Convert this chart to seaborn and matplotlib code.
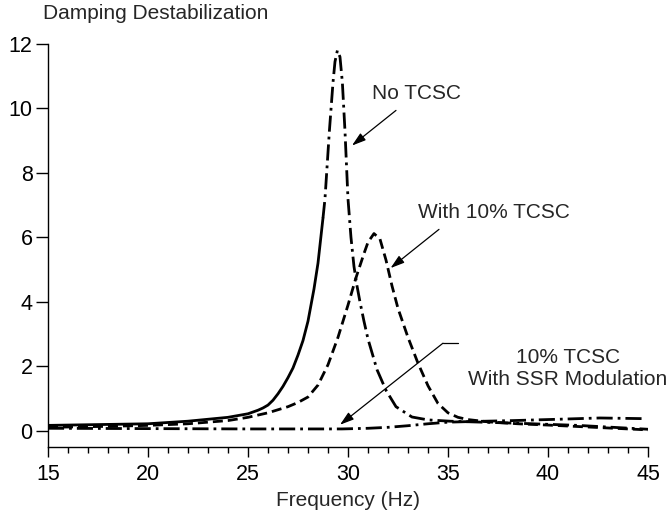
import numpy as np
import pandas as pd
import matplotlib
matplotlib.use("Agg")
import matplotlib.pyplot as plt
import seaborn as sns
from matplotlib.ticker import MultipleLocator

# Damping destabilization vs. frequency for three compensation cases
freq_no_tcsc = [15, 17, 19, 20, 22, 24, 25, 25.5, 25.75, 26, 26.25, 26.5, 26.75, 27,
                27.25, 27.5, 27.75, 28, 28.15, 28.3, 28.5, 28.75, 28.85, 29.07, 29.25,
                29.35, 29.47, 29.6, 29.72, 29.85, 30.0, 30.15, 30.3, 30.45, 30.6, 30.8,
                31.0, 31.45, 31.9, 32.4, 33.2, 34.0, 35.1, 38.3, 41.5, 45]
damp_no_tcsc = [0.17, 0.19, 0.21, 0.22, 0.30, 0.42, 0.53, 0.64, 0.71, 0.80, 0.95, 1.15,
                1.38, 1.65, 1.95, 2.35, 2.8, 3.4, 3.9, 4.4, 5.2, 6.6, 7.2, 9.3, 10.8,
                11.45, 11.8, 11.6, 10.8, 9.3, 7.2, 6.0, 5.1, 4.5, 4.0, 3.4, 2.85, 1.9,
                1.26, 0.75, 0.43, 0.34, 0.30, 0.24, 0.17, 0.05]

freq_tcsc10 = [15, 18, 20, 22, 24, 25, 26, 27, 27.5, 28, 28.5, 29, 29.5, 30, 30.4, 30.8,
               31.0, 31.3, 31.6, 31.9, 32.2, 32.5, 33.0, 33.5, 34.0, 34.5, 35.0, 35.5,
               36, 37, 38.5, 40, 42, 44, 45]
damp_tcsc10 = [0.11, 0.14, 0.17, 0.22, 0.32, 0.42, 0.56, 0.75, 0.88, 1.05, 1.42, 2.05,
               2.9, 3.9, 4.75, 5.5, 5.85, 6.12, 5.95, 5.3, 4.5, 3.8, 2.9, 2.1, 1.4, 0.85,
               0.56, 0.42, 0.35, 0.28, 0.22, 0.18, 0.12, 0.06, 0.03]

freq_ssr = [15, 20, 25, 29.7, 31, 32, 33, 34, 35, 36.2, 38.3, 40.5, 42.6, 44.7]
damp_ssr = [0.08, 0.07, 0.06, 0.06, 0.08, 0.11, 0.16, 0.22, 0.27, 0.29, 0.32, 0.36,
            0.40, 0.38]

x_ticks = [15, 20, 25, 30, 35, 40, 45]
y_ticks = [0, 2, 4, 6, 8, 10, 12]

# frequency where the No TCSC trace changes from solid to dash-dot
split_freq = 28.75

sns.set_theme(style="ticks")
plt.rcParams["font.family"] = ["Liberation Sans", "DejaVu Sans"]

fig = plt.figure(figsize=(6.71, 5.22), dpi=100)
ax = fig.add_axes([0.0715, 0.1437, 0.8942, 0.772])

lw = 2.0
dash = (0, (3.6, 1.8))
dashdot = (0, (5.8, 1.8, 1.0, 1.8))

no_tcsc = pd.DataFrame({"f": freq_no_tcsc, "d": damp_no_tcsc})
tcsc10 = pd.DataFrame({"f": freq_tcsc10, "d": damp_tcsc10})
ssr = pd.DataFrame({"f": freq_ssr, "d": damp_ssr})

sns.lineplot(data=no_tcsc[no_tcsc.f <= split_freq], x="f", y="d", ax=ax,
             color="black", lw=lw, linestyle="-", sort=False, estimator=None)
sns.lineplot(data=no_tcsc[no_tcsc.f >= split_freq], x="f", y="d", ax=ax,
             color="black", lw=lw, linestyle=dashdot, sort=False, estimator=None)
sns.lineplot(data=tcsc10, x="f", y="d", ax=ax, color="black", lw=lw,
             linestyle=dash, sort=False, estimator=None)
sns.lineplot(data=ssr, x="f", y="d", ax=ax, color="black", lw=lw,
             linestyle=dashdot, sort=False, estimator=None)

ax.set_xlim(15, 45)
ax.set_ylim(-0.5, 12)
ax.set_xticks(x_ticks)
ax.set_yticks(y_ticks)
ax.xaxis.set_minor_locator(MultipleLocator(1))
ax.set_xlabel("")
ax.set_ylabel("")
for side in ("top", "right"):
    ax.spines[side].set_visible(False)
for side in ("left", "bottom"):
    ax.spines[side].set_linewidth(1.0)
    ax.spines[side].set_color("black")
ax.tick_params(axis="x", which="major", length=7, width=1.0, direction="out",
               labelsize=15.5, pad=5, colors="black")
ax.tick_params(axis="x", which="minor", length=4.5, width=1.0, direction="out",
               colors="black")
ax.tick_params(axis="y", which="major", length=9, width=1.0, direction="out",
               labelsize=15.5, pad=2, colors="black")

fig.text(0.064, 0.975, "Damping Destabilization", fontsize=15, ha="left", va="center")
fig.text(0.5186, 0.042, "Frequency (Hz)", fontsize=15, ha="center", va="center")

arrow = dict(arrowstyle="-|>,head_length=0.7,head_width=0.22", color="black", lw=0.9,
             shrinkA=0, shrinkB=0)
ax.text(31.2, 10.45, "No TCSC", fontsize=15, ha="left", va="center")
ax.annotate("", xy=(30.2, 8.85), xytext=(32.4, 9.94), arrowprops=arrow)

ax.text(33.5, 6.78, "With 10% TCSC", fontsize=15, ha="left", va="center")
ax.annotate("", xy=(32.13, 5.05), xytext=(34.55, 6.25), arrowprops=arrow)

ax.text(41.0, 1.95, "10% TCSC\nWith SSR Modulation", fontsize=15, ha="center",
        va="center", linespacing=1.2)
ax.plot([35.5, 34.75], [2.72, 2.72], color="black", lw=0.9)
ax.annotate("", xy=(29.6, 0.19), xytext=(34.75, 2.72), arrowprops=arrow)

fig.savefig("out.png", dpi=100)
